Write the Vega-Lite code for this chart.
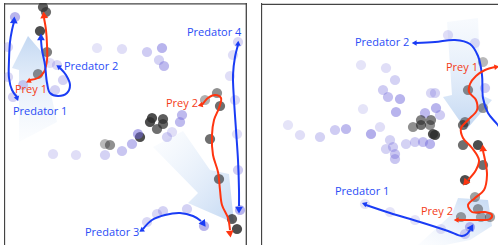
{
  "$schema": "https://vega.github.io/schema/vega-lite/v6.json",
  "padding": {"left": 4, "top": 3, "right": 0, "bottom": 0},
  "spacing": 14,
  "config": {"view": {"stroke": null}, "text": {"font": "Open Sans", "fontSize": 11}},
  "datasets": {
    "frame": [{"edge": "frame"}],
    "lcones": [
      {"cone": "A", "i": 0, "x": 28, "y": 36},
      {"cone": "A", "i": 1, "x": 50, "y": 62},
      {"cone": "A", "i": 2, "x": 45, "y": 66},
      {"cone": "A", "i": 3, "x": 57, "y": 122},
      {"cone": "A", "i": 4, "x": 19, "y": 142},
      {"cone": "A", "i": 5, "x": 19, "y": 70},
      {"cone": "A", "i": 6, "x": 12, "y": 68},
      {"cone": "B", "i": 0, "x": 153, "y": 147},
      {"cone": "B", "i": 1, "x": 183, "y": 131},
      {"cone": "B", "i": 2, "x": 210, "y": 170},
      {"cone": "B", "i": 3, "x": 229, "y": 174},
      {"cone": "B", "i": 4, "x": 234, "y": 223},
      {"cone": "B", "i": 5, "x": 188, "y": 203},
      {"cone": "B", "i": 6, "x": 198, "y": 193}
    ],
    "rcones": [
      {"cone": "C", "i": 0, "x": 447, "y": 22},
      {"cone": "C", "i": 1, "x": 478, "y": 18},
      {"cone": "C", "i": 2, "x": 481, "y": 95},
      {"cone": "C", "i": 3, "x": 492, "y": 100},
      {"cone": "C", "i": 4, "x": 466, "y": 130},
      {"cone": "C", "i": 5, "x": 443, "y": 97},
      {"cone": "C", "i": 6, "x": 452, "y": 95},
      {"cone": "D", "i": 0, "x": 418, "y": 245},
      {"cone": "D", "i": 1, "x": 452, "y": 214},
      {"cone": "D", "i": 2, "x": 458, "y": 198},
      {"cone": "D", "i": 3, "x": 488, "y": 200},
      {"cone": "D", "i": 4, "x": 492, "y": 226},
      {"cone": "D", "i": 5, "x": 470, "y": 240},
      {"cone": "D", "i": 6, "x": 445, "y": 245}
    ],
    "lpts": [
      {"x": 43, "y": 7, "kind": "prey", "t": 0.9},
      {"x": 46, "y": 12, "kind": "prey", "t": 0.8},
      {"x": 40, "y": 31, "kind": "prey", "t": 1.0},
      {"x": 47, "y": 52, "kind": "prey", "t": 0.7},
      {"x": 38, "y": 74, "kind": "prey", "t": 0.6},
      {"x": 152, "y": 118, "kind": "prey", "t": 1.0},
      {"x": 163, "y": 119, "kind": "prey", "t": 0.9},
      {"x": 150, "y": 122, "kind": "prey", "t": 1.0},
      {"x": 163, "y": 124, "kind": "prey", "t": 0.85},
      {"x": 157, "y": 129, "kind": "prey", "t": 0.8},
      {"x": 140, "y": 137, "kind": "prey", "t": 1.0},
      {"x": 105, "y": 144, "kind": "prey", "t": 0.35},
      {"x": 110, "y": 145, "kind": "prey", "t": 0.6},
      {"x": 217, "y": 93, "kind": "prey", "t": 0.6},
      {"x": 205, "y": 100, "kind": "prey", "t": 0.4},
      {"x": 220, "y": 106, "kind": "prey", "t": 0.8},
      {"x": 210, "y": 139, "kind": "prey", "t": 0.8},
      {"x": 219, "y": 179, "kind": "prey", "t": 0.75},
      {"x": 232, "y": 219, "kind": "prey", "t": 0.9},
      {"x": 237, "y": 229, "kind": "prey", "t": 1.0},
      {"x": 15, "y": 17, "kind": "pred", "t": 0.55},
      {"x": 8, "y": 47, "kind": "pred", "t": 0.25},
      {"x": 8, "y": 77, "kind": "pred", "t": 0.25},
      {"x": 50, "y": 63, "kind": "pred", "t": 0.2},
      {"x": 57, "y": 65, "kind": "pred", "t": 0.25},
      {"x": 63, "y": 80, "kind": "pred", "t": 0.3},
      {"x": 55, "y": 90, "kind": "pred", "t": 0.3},
      {"x": 13, "y": 97, "kind": "pred", "t": 0.3},
      {"x": 23, "y": 85, "kind": "pred", "t": 0.3},
      {"x": 97, "y": 48, "kind": "pred", "t": 0.15},
      {"x": 122, "y": 49, "kind": "pred", "t": 0.2},
      {"x": 147, "y": 52, "kind": "pred", "t": 0.35},
      {"x": 162, "y": 48, "kind": "pred", "t": 0.55},
      {"x": 159, "y": 60, "kind": "pred", "t": 0.3},
      {"x": 164, "y": 66, "kind": "pred", "t": 0.5},
      {"x": 238, "y": 42, "kind": "pred", "t": 0.25},
      {"x": 233, "y": 55, "kind": "pred", "t": 0.2},
      {"x": 230, "y": 76, "kind": "pred", "t": 0.2},
      {"x": 235, "y": 100, "kind": "pred", "t": 0.25},
      {"x": 182, "y": 115, "kind": "pred", "t": 0.5},
      {"x": 180, "y": 122, "kind": "pred", "t": 0.5},
      {"x": 138, "y": 134, "kind": "pred", "t": 0.6},
      {"x": 132, "y": 144, "kind": "pred", "t": 0.5},
      {"x": 122, "y": 151, "kind": "pred", "t": 0.4},
      {"x": 105, "y": 155, "kind": "pred", "t": 0.3},
      {"x": 76, "y": 155, "kind": "pred", "t": 0.2},
      {"x": 53, "y": 154, "kind": "pred", "t": 0.2},
      {"x": 167, "y": 137, "kind": "pred", "t": 0.3},
      {"x": 172, "y": 132, "kind": "pred", "t": 0.2},
      {"x": 237, "y": 134, "kind": "pred", "t": 0.2},
      {"x": 238, "y": 170, "kind": "pred", "t": 0.35},
      {"x": 240, "y": 210, "kind": "pred", "t": 0.55},
      {"x": 147, "y": 222, "kind": "pred", "t": 0.25},
      {"x": 157, "y": 214, "kind": "pred", "t": 0.25},
      {"x": 163, "y": 211, "kind": "pred", "t": 0.3},
      {"x": 187, "y": 209, "kind": "pred", "t": 0.3},
      {"x": 204, "y": 226, "kind": "pred", "t": 0.55}
    ],
    "rpts": [
      {"x": 361, "y": 65, "kind": "pred", "t": 0.15},
      {"x": 386, "y": 68, "kind": "pred", "t": 0.2},
      {"x": 395, "y": 80, "kind": "pred", "t": 0.3},
      {"x": 383, "y": 90, "kind": "pred", "t": 0.35},
      {"x": 388, "y": 97, "kind": "pred", "t": 0.45},
      {"x": 400, "y": 99, "kind": "pred", "t": 0.55},
      {"x": 363, "y": 109, "kind": "pred", "t": 0.15},
      {"x": 396, "y": 112, "kind": "pred", "t": 0.55},
      {"x": 431, "y": 93, "kind": "pred", "t": 0.25},
      {"x": 435, "y": 93, "kind": "pred", "t": 0.3},
      {"x": 436, "y": 108, "kind": "pred", "t": 0.55},
      {"x": 440, "y": 115, "kind": "pred", "t": 0.35},
      {"x": 425, "y": 113, "kind": "pred", "t": 0.5},
      {"x": 448, "y": 35, "kind": "pred", "t": 0.2},
      {"x": 475, "y": 43, "kind": "pred", "t": 0.2},
      {"x": 485, "y": 88, "kind": "pred", "t": 0.35},
      {"x": 288, "y": 125, "kind": "pred", "t": 0.15},
      {"x": 300, "y": 135, "kind": "pred", "t": 0.2},
      {"x": 320, "y": 137, "kind": "pred", "t": 0.3},
      {"x": 335, "y": 130, "kind": "pred", "t": 0.35},
      {"x": 346, "y": 129, "kind": "pred", "t": 0.5},
      {"x": 371, "y": 134, "kind": "pred", "t": 0.6},
      {"x": 380, "y": 127, "kind": "pred", "t": 0.2},
      {"x": 390, "y": 140, "kind": "pred", "t": 0.3},
      {"x": 393, "y": 147, "kind": "pred", "t": 0.35},
      {"x": 395, "y": 154, "kind": "pred", "t": 0.4},
      {"x": 395, "y": 159, "kind": "pred", "t": 0.4},
      {"x": 386, "y": 149, "kind": "pred", "t": 0.3},
      {"x": 406, "y": 144, "kind": "pred", "t": 0.3},
      {"x": 415, "y": 142, "kind": "pred", "t": 0.35},
      {"x": 423, "y": 142, "kind": "pred", "t": 0.45},
      {"x": 430, "y": 144, "kind": "pred", "t": 0.55},
      {"x": 470, "y": 227, "kind": "pred", "t": 0.5},
      {"x": 465, "y": 234, "kind": "pred", "t": 0.3},
      {"x": 365, "y": 204, "kind": "pred", "t": 0.15},
      {"x": 390, "y": 212, "kind": "pred", "t": 0.15},
      {"x": 415, "y": 220, "kind": "pred", "t": 0.15},
      {"x": 441, "y": 229, "kind": "pred", "t": 0.15},
      {"x": 483, "y": 62, "kind": "prey", "t": 0.35},
      {"x": 468, "y": 90, "kind": "prey", "t": 0.6},
      {"x": 483, "y": 108, "kind": "prey", "t": 0.55},
      {"x": 421, "y": 120, "kind": "prey", "t": 0.7},
      {"x": 431, "y": 120, "kind": "prey", "t": 0.7},
      {"x": 465, "y": 122, "kind": "prey", "t": 0.6},
      {"x": 413, "y": 127, "kind": "prey", "t": 0.6},
      {"x": 421, "y": 125, "kind": "prey", "t": 0.8},
      {"x": 430, "y": 125, "kind": "prey", "t": 0.6},
      {"x": 435, "y": 135, "kind": "prey", "t": 1.0},
      {"x": 433, "y": 134, "kind": "prey", "t": 1.0},
      {"x": 463, "y": 125, "kind": "prey", "t": 0.8},
      {"x": 463, "y": 145, "kind": "prey", "t": 0.8},
      {"x": 478, "y": 145, "kind": "prey", "t": 1.0},
      {"x": 483, "y": 165, "kind": "prey", "t": 0.8},
      {"x": 465, "y": 180, "kind": "prey", "t": 1.0},
      {"x": 475, "y": 197, "kind": "prey", "t": 0.5},
      {"x": 478, "y": 209, "kind": "prey", "t": 0.5},
      {"x": 461, "y": 217, "kind": "prey", "t": 0.5},
      {"x": 481, "y": 217, "kind": "prey", "t": 0.4},
      {"x": 490, "y": 217, "kind": "prey", "t": 0.5}
    ],
    "lpaths": [
      {"id": "P1", "who": "pred", "i": 0, "x": 17, "y": 97},
      {"id": "P1", "who": "pred", "i": 1, "x": 12, "y": 90},
      {"id": "P1", "who": "pred", "i": 2, "x": 9, "y": 78},
      {"id": "P1", "who": "pred", "i": 3, "x": 9, "y": 60},
      {"id": "P1", "who": "pred", "i": 4, "x": 10, "y": 42},
      {"id": "P1", "who": "pred", "i": 5, "x": 12, "y": 30},
      {"id": "P1", "who": "pred", "i": 6, "x": 14, "y": 22},
      {"id": "Y1", "who": "prey", "i": 0, "x": 30, "y": 80},
      {"id": "Y1", "who": "prey", "i": 1, "x": 38, "y": 78},
      {"id": "Y1", "who": "prey", "i": 2, "x": 44, "y": 72},
      {"id": "Y1", "who": "prey", "i": 3, "x": 47, "y": 60},
      {"id": "Y1", "who": "prey", "i": 4, "x": 47, "y": 45},
      {"id": "Y1", "who": "prey", "i": 5, "x": 46, "y": 30},
      {"id": "Y1", "who": "prey", "i": 6, "x": 44, "y": 18},
      {"id": "P2", "who": "pred", "i": 0, "x": 60, "y": 68},
      {"id": "P2", "who": "pred", "i": 1, "x": 66, "y": 75},
      {"id": "P2", "who": "pred", "i": 2, "x": 70, "y": 85},
      {"id": "P2", "who": "pred", "i": 3, "x": 67, "y": 93},
      {"id": "P2", "who": "pred", "i": 4, "x": 58, "y": 96},
      {"id": "P2", "who": "pred", "i": 5, "x": 50, "y": 93},
      {"id": "P2", "who": "pred", "i": 6, "x": 47, "y": 83},
      {"id": "P2", "who": "pred", "i": 7, "x": 45, "y": 65},
      {"id": "P2", "who": "pred", "i": 8, "x": 42, "y": 50},
      {"id": "P2", "who": "pred", "i": 9, "x": 41, "y": 40},
      {"id": "P4", "who": "pred", "i": 0, "x": 238, "y": 45},
      {"id": "P4", "who": "pred", "i": 1, "x": 235, "y": 57},
      {"id": "P4", "who": "pred", "i": 2, "x": 233, "y": 75},
      {"id": "P4", "who": "pred", "i": 3, "x": 234, "y": 100},
      {"id": "P4", "who": "pred", "i": 4, "x": 236, "y": 130},
      {"id": "P4", "who": "pred", "i": 5, "x": 238, "y": 160},
      {"id": "P4", "who": "pred", "i": 6, "x": 239, "y": 190},
      {"id": "P4", "who": "pred", "i": 7, "x": 239, "y": 206},
      {"id": "Y2", "who": "prey", "i": 0, "x": 202, "y": 105},
      {"id": "Y2", "who": "prey", "i": 1, "x": 208, "y": 98},
      {"id": "Y2", "who": "prey", "i": 2, "x": 215, "y": 95},
      {"id": "Y2", "who": "prey", "i": 3, "x": 221, "y": 98},
      {"id": "Y2", "who": "prey", "i": 4, "x": 219, "y": 108},
      {"id": "Y2", "who": "prey", "i": 5, "x": 214, "y": 120},
      {"id": "Y2", "who": "prey", "i": 6, "x": 212, "y": 135},
      {"id": "Y2", "who": "prey", "i": 7, "x": 213, "y": 155},
      {"id": "Y2", "who": "prey", "i": 8, "x": 218, "y": 172},
      {"id": "Y2", "who": "prey", "i": 9, "x": 220, "y": 190},
      {"id": "Y2", "who": "prey", "i": 10, "x": 222, "y": 205},
      {"id": "Y2", "who": "prey", "i": 11, "x": 228, "y": 218},
      {"id": "Y2", "who": "prey", "i": 12, "x": 230, "y": 230},
      {"id": "P3", "who": "pred", "i": 0, "x": 143, "y": 229},
      {"id": "P3", "who": "pred", "i": 1, "x": 152, "y": 220},
      {"id": "P3", "who": "pred", "i": 2, "x": 165, "y": 215},
      {"id": "P3", "who": "pred", "i": 3, "x": 180, "y": 213},
      {"id": "P3", "who": "pred", "i": 4, "x": 193, "y": 216},
      {"id": "P3", "who": "pred", "i": 5, "x": 201, "y": 221}
    ],
    "rpaths": [
      {"id": "P2", "who": "pred", "i": 0, "x": 416, "y": 43},
      {"id": "P2", "who": "pred", "i": 1, "x": 435, "y": 42},
      {"id": "P2", "who": "pred", "i": 2, "x": 455, "y": 40},
      {"id": "P2", "who": "pred", "i": 3, "x": 470, "y": 44},
      {"id": "P2", "who": "pred", "i": 4, "x": 478, "y": 56},
      {"id": "P2", "who": "pred", "i": 5, "x": 482, "y": 75},
      {"id": "P2", "who": "pred", "i": 6, "x": 483, "y": 98},
      {"id": "P2", "who": "pred", "i": 7, "x": 488, "y": 113},
      {"id": "P2", "who": "pred", "i": 8, "x": 497, "y": 124},
      {"id": "P2", "who": "pred", "i": 9, "x": 505, "y": 135},
      {"id": "Y1", "who": "prey", "i": 0, "x": 495, "y": 67},
      {"id": "Y1", "who": "prey", "i": 1, "x": 485, "y": 70},
      {"id": "Y1", "who": "prey", "i": 2, "x": 476, "y": 76},
      {"id": "Y1", "who": "prey", "i": 3, "x": 470, "y": 84},
      {"id": "Y1", "who": "prey", "i": 4, "x": 469, "y": 92},
      {"id": "Y1", "who": "prey", "i": 5, "x": 476, "y": 100},
      {"id": "Y1", "who": "prey", "i": 6, "x": 477, "y": 110},
      {"id": "Y1", "who": "prey", "i": 7, "x": 468, "y": 120},
      {"id": "Y1", "who": "prey", "i": 8, "x": 461, "y": 128},
      {"id": "Y1", "who": "prey", "i": 9, "x": 463, "y": 138},
      {"id": "Y1", "who": "prey", "i": 10, "x": 472, "y": 148},
      {"id": "Y1", "who": "prey", "i": 11, "x": 479, "y": 160},
      {"id": "Y1", "who": "prey", "i": 12, "x": 476, "y": 170},
      {"id": "Y1", "who": "prey", "i": 13, "x": 468, "y": 180},
      {"id": "Y2", "who": "prey", "i": 0, "x": 458, "y": 220},
      {"id": "Y2", "who": "prey", "i": 1, "x": 475, "y": 220},
      {"id": "Y2", "who": "prey", "i": 2, "x": 490, "y": 219},
      {"id": "Y2", "who": "prey", "i": 3, "x": 492, "y": 215},
      {"id": "Y2", "who": "prey", "i": 4, "x": 485, "y": 212},
      {"id": "Y2", "who": "prey", "i": 5, "x": 472, "y": 212},
      {"id": "Y2", "who": "prey", "i": 6, "x": 468, "y": 205},
      {"id": "Y2", "who": "prey", "i": 7, "x": 475, "y": 198},
      {"id": "Y2", "who": "prey", "i": 8, "x": 484, "y": 190},
      {"id": "Y2", "who": "prey", "i": 9, "x": 487, "y": 175},
      {"id": "Y2", "who": "prey", "i": 10, "x": 485, "y": 160},
      {"id": "Y2", "who": "prey", "i": 11, "x": 483, "y": 151},
      {"id": "P1", "who": "pred", "i": 0, "x": 366, "y": 205},
      {"id": "P1", "who": "pred", "i": 1, "x": 390, "y": 213},
      {"id": "P1", "who": "pred", "i": 2, "x": 420, "y": 222},
      {"id": "P1", "who": "pred", "i": 3, "x": 448, "y": 231},
      {"id": "P1", "who": "pred", "i": 4, "x": 462, "y": 236},
      {"id": "P1", "who": "pred", "i": 5, "x": 467, "y": 234},
      {"id": "P1", "who": "pred", "i": 6, "x": 470, "y": 230}
    ],
    "larrows": [
      {"x": 14, "y": 21, "angle": 5, "who": "pred", "end": "head"},
      {"x": 17, "y": 98, "angle": 160, "who": "pred", "end": "tail"},
      {"x": 44, "y": 16, "angle": 355, "who": "prey", "end": "head"},
      {"x": 29, "y": 81, "angle": 245, "who": "prey", "end": "tail"},
      {"x": 41, "y": 38, "angle": 0, "who": "pred", "end": "head"},
      {"x": 59, "y": 67, "angle": 305, "who": "pred", "end": "tail"},
      {"x": 239, "y": 209, "angle": 180, "who": "pred", "end": "head"},
      {"x": 238, "y": 44, "angle": 5, "who": "pred", "end": "tail"},
      {"x": 230, "y": 233, "angle": 172, "who": "prey", "end": "head"},
      {"x": 201, "y": 105, "angle": 255, "who": "prey", "end": "tail"},
      {"x": 203, "y": 223, "angle": 145, "who": "pred", "end": "head"},
      {"x": 142, "y": 230, "angle": 235, "who": "pred", "end": "tail"}
    ],
    "rarrows": [
      {"x": 415, "y": 43, "angle": 270, "who": "pred", "end": "tail"},
      {"x": 496, "y": 67, "angle": 80, "who": "prey", "end": "tail"},
      {"x": 466, "y": 182, "angle": 220, "who": "prey", "end": "head"},
      {"x": 457, "y": 220, "angle": 270, "who": "prey", "end": "tail"},
      {"x": 483, "y": 149, "angle": 355, "who": "prey", "end": "head"},
      {"x": 365, "y": 204, "angle": 290, "who": "pred", "end": "tail"},
      {"x": 471, "y": 228, "angle": 30, "who": "pred", "end": "head"}
    ],
    "llabels": [
      {"label": "Prey 1", "x": 15, "y": 90, "who": "prey"},
      {"label": "Predator 1", "x": 13, "y": 112, "who": "pred"},
      {"label": "Predator 2", "x": 64, "y": 67, "who": "pred"},
      {"label": "Predator 4", "x": 187, "y": 33, "who": "pred"},
      {"label": "Prey 2", "x": 166, "y": 104, "who": "prey"},
      {"label": "Predator 3", "x": 85, "y": 233, "who": "pred"}
    ],
    "rlabels": [
      {"label": "Predator 2", "x": 355, "y": 43, "who": "pred"},
      {"label": "Prey 1", "x": 446, "y": 68, "who": "prey"},
      {"label": "Predator 1", "x": 335, "y": 192, "who": "pred"},
      {"label": "Prey 2", "x": 421, "y": 212, "who": "prey"}
    ]
  },
  "hconcat": [
    {
      "width": 243,
      "height": 242,
      "resolve": {"scale": {"color": "independent", "opacity": "independent", "size": "independent"}},
      "layer": [
        {
          "data": {"name": "lcones"},
          "transform": [{"filter": "datum.cone == 'A'"}],
          "mark": {"type": "line", "filled": true, "strokeWidth": 0, "clip": true,
            "fill": {"gradient": "linear", "x1": 0, "y1": 0, "x2": 0, "y2": 1,
              "stops": [{"offset": 0, "color": "rgba(175,203,238,0.75)"}, {"offset": 1, "color": "rgba(225,236,250,0.1)"}]}},
          "encoding": {
            "x": {"field": "x", "type": "quantitative", "scale": {"domain": [4, 247], "nice": false, "zero": false}, "axis": null},
            "y": {"field": "y", "type": "quantitative", "scale": {"domain": [3, 245], "nice": false, "zero": false, "reverse": true}, "axis": null},
            "order": {"field": "i"}
          }
        },
        {
          "data": {"name": "lcones"},
          "transform": [{"filter": "datum.cone == 'B'"}],
          "mark": {"type": "line", "filled": true, "strokeWidth": 0, "clip": true,
            "fill": {"gradient": "linear", "x1": 0, "y1": 0, "x2": 1, "y2": 1,
              "stops": [{"offset": 0, "color": "rgba(225,236,250,0.1)"}, {"offset": 1, "color": "rgba(175,203,238,0.75)"}]}},
          "encoding": {
            "x": {"field": "x", "type": "quantitative", "axis": null},
            "y": {"field": "y", "type": "quantitative", "axis": null},
            "order": {"field": "i"}
          }
        },
        {
          "data": {"name": "frame"},
          "mark": {"type": "rule", "color": "#444444", "strokeWidth": 1.3, "clip": true},
          "encoding": {"x": {"datum": 4.5, "type": "quantitative", "axis": null}}
        },
        {
          "data": {"name": "frame"},
          "mark": {"type": "rule", "color": "#444444", "strokeWidth": 1.3, "clip": true},
          "encoding": {"x": {"datum": 246.3, "type": "quantitative", "axis": null}}
        },
        {
          "data": {"name": "frame"},
          "mark": {"type": "rule", "color": "#444444", "strokeWidth": 1.3, "clip": true},
          "encoding": {"y": {"datum": 3.8, "type": "quantitative", "axis": null}}
        },
        {
          "data": {"name": "lpts"},
          "mark": {"type": "circle", "size": 105, "clip": true},
          "encoding": {
            "x": {"field": "x", "type": "quantitative", "axis": null},
            "y": {"field": "y", "type": "quantitative", "axis": null},
            "color": {"field": "kind", "type": "nominal", "scale": {"domain": ["pred", "prey"], "range": ["#7068da", "#2e2e2e"]}, "legend": null},
            "opacity": {"field": "t", "type": "quantitative", "scale": {"domain": [0, 1], "range": [0.06, 0.85]}, "legend": null}
          }
        },
        {
          "data": {"name": "lpaths"},
          "mark": {"type": "line", "interpolate": "catmull-rom", "strokeWidth": 2, "clip": true},
          "encoding": {
            "x": {"field": "x", "type": "quantitative", "axis": null},
            "y": {"field": "y", "type": "quantitative", "axis": null},
            "detail": {"field": "id"},
            "order": {"field": "i"},
            "color": {"field": "who", "type": "nominal", "scale": {"domain": ["pred", "prey"], "range": ["#1a3cf5", "#ff3510"]}, "legend": null}
          }
        },
        {
          "data": {"name": "larrows"},
          "mark": {"type": "point", "shape": "triangle", "filled": true, "opacity": 1, "clip": true},
          "encoding": {
            "x": {"field": "x", "type": "quantitative", "axis": null},
            "y": {"field": "y", "type": "quantitative", "axis": null},
            "angle": {"field": "angle", "type": "quantitative", "scale": {"domain": [0, 360], "range": [0, 360]}},
            "size": {"field": "end", "type": "nominal", "scale": {"domain": ["head", "tail"], "range": [60, 32]}, "legend": null},
            "color": {"field": "who", "type": "nominal", "scale": {"domain": ["pred", "prey"], "range": ["#1a3cf5", "#ff3510"]}, "legend": null}
          }
        },
        {
          "data": {"name": "llabels"},
          "mark": {"type": "text", "align": "left", "baseline": "middle", "font": "Open Sans", "fontSize": 11},
          "encoding": {
            "x": {"field": "x", "type": "quantitative", "axis": null},
            "y": {"field": "y", "type": "quantitative", "axis": null},
            "text": {"field": "label"},
            "color": {"field": "who", "type": "nominal", "scale": {"domain": ["pred", "prey"], "range": ["#2a4cf6", "#f43c18"]}, "legend": null}
          }
        }
      ]
    },
    {
      "width": 237,
      "height": 242,
      "resolve": {"scale": {"color": "independent", "opacity": "independent", "size": "independent"}},
      "layer": [
        {
          "data": {"name": "rcones"},
          "transform": [{"filter": "datum.cone == 'C'"}],
          "mark": {"type": "line", "filled": true, "strokeWidth": 0, "clip": true,
            "fill": {"gradient": "linear", "x1": 0, "y1": 0, "x2": 0, "y2": 1,
              "stops": [{"offset": 0, "color": "rgba(225,236,250,0.25)"}, {"offset": 1, "color": "rgba(175,203,238,0.75)"}]}},
          "encoding": {
            "x": {"field": "x", "type": "quantitative", "scale": {"domain": [261, 498], "nice": false, "zero": false}, "axis": null},
            "y": {"field": "y", "type": "quantitative", "scale": {"domain": [3, 245], "nice": false, "zero": false, "reverse": true}, "axis": null},
            "order": {"field": "i"}
          }
        },
        {
          "data": {"name": "rcones"},
          "transform": [{"filter": "datum.cone == 'D'"}],
          "mark": {"type": "line", "filled": true, "strokeWidth": 0, "clip": true,
            "fill": {"gradient": "linear", "x1": 0, "y1": 1, "x2": 1, "y2": 0,
              "stops": [{"offset": 0, "color": "rgba(225,236,250,0.1)"}, {"offset": 1, "color": "rgba(175,203,238,0.75)"}]}},
          "encoding": {
            "x": {"field": "x", "type": "quantitative", "axis": null},
            "y": {"field": "y", "type": "quantitative", "axis": null},
            "order": {"field": "i"}
          }
        },
        {
          "data": {"name": "frame"},
          "mark": {"type": "rule", "color": "#444444", "strokeWidth": 1.3, "clip": true},
          "encoding": {"x": {"datum": 261.5, "type": "quantitative", "axis": null}}
        },
        {
          "data": {"name": "frame"},
          "mark": {"type": "rule", "color": "#444444", "strokeWidth": 1.3, "clip": true},
          "encoding": {"y": {"datum": 4.3, "type": "quantitative", "axis": null}}
        },
        {
          "data": {"name": "rpts"},
          "mark": {"type": "circle", "size": 105, "clip": true},
          "encoding": {
            "x": {"field": "x", "type": "quantitative", "axis": null},
            "y": {"field": "y", "type": "quantitative", "axis": null},
            "color": {"field": "kind", "type": "nominal", "scale": {"domain": ["pred", "prey"], "range": ["#7068da", "#2e2e2e"]}, "legend": null},
            "opacity": {"field": "t", "type": "quantitative", "scale": {"domain": [0, 1], "range": [0.06, 0.85]}, "legend": null}
          }
        },
        {
          "data": {"name": "rpaths"},
          "mark": {"type": "line", "interpolate": "catmull-rom", "strokeWidth": 2, "clip": true},
          "encoding": {
            "x": {"field": "x", "type": "quantitative", "axis": null},
            "y": {"field": "y", "type": "quantitative", "axis": null},
            "detail": {"field": "id"},
            "order": {"field": "i"},
            "color": {"field": "who", "type": "nominal", "scale": {"domain": ["pred", "prey"], "range": ["#1a3cf5", "#ff3510"]}, "legend": null}
          }
        },
        {
          "data": {"name": "rarrows"},
          "mark": {"type": "point", "shape": "triangle", "filled": true, "opacity": 1, "clip": true},
          "encoding": {
            "x": {"field": "x", "type": "quantitative", "axis": null},
            "y": {"field": "y", "type": "quantitative", "axis": null},
            "angle": {"field": "angle", "type": "quantitative", "scale": {"domain": [0, 360], "range": [0, 360]}},
            "size": {"field": "end", "type": "nominal", "scale": {"domain": ["head", "tail"], "range": [60, 32]}, "legend": null},
            "color": {"field": "who", "type": "nominal", "scale": {"domain": ["pred", "prey"], "range": ["#1a3cf5", "#ff3510"]}, "legend": null}
          }
        },
        {
          "data": {"name": "rlabels"},
          "mark": {"type": "text", "align": "left", "baseline": "middle", "font": "Open Sans", "fontSize": 11},
          "encoding": {
            "x": {"field": "x", "type": "quantitative", "axis": null},
            "y": {"field": "y", "type": "quantitative", "axis": null},
            "text": {"field": "label"},
            "color": {"field": "who", "type": "nominal", "scale": {"domain": ["pred", "prey"], "range": ["#2a4cf6", "#f43c18"]}, "legend": null}
          }
        }
      ]
    }
  ]
}
